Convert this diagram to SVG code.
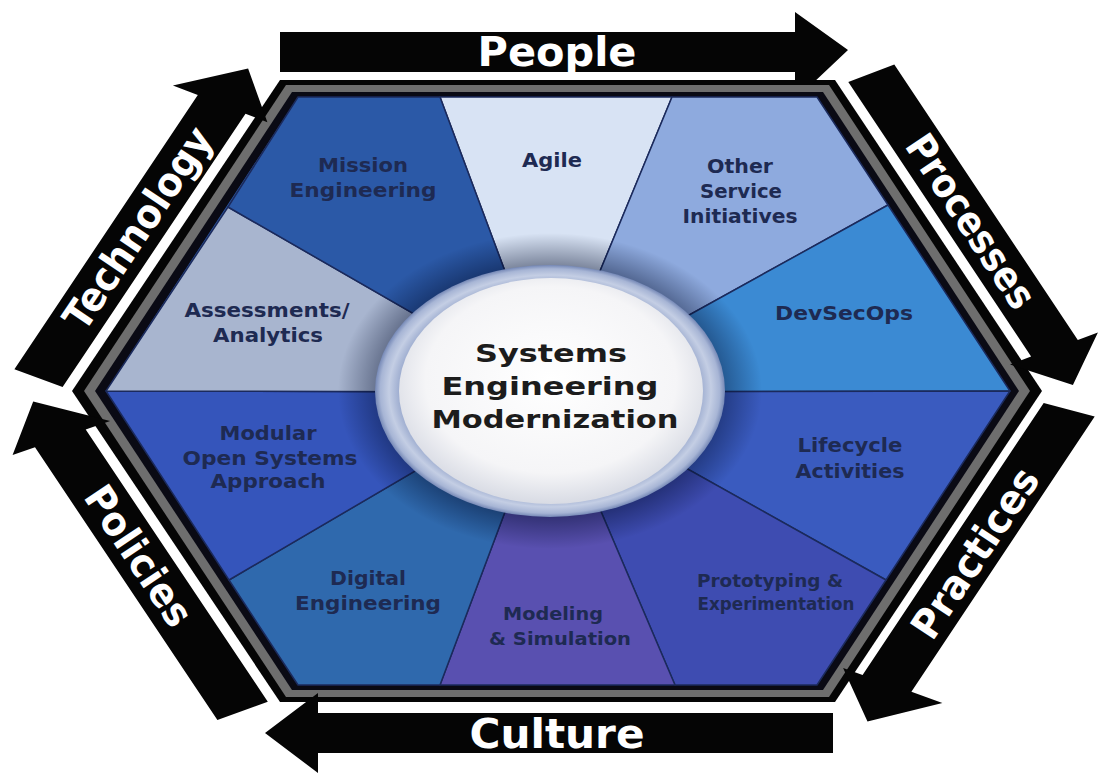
<svg xmlns="http://www.w3.org/2000/svg" width="1099" height="774" viewBox="0 0 1099 774">
<defs>
  <radialGradient id="shadow" cx="0.5" cy="0.5" r="0.5">
    <stop offset="0.76" stop-color="#000a28" stop-opacity="0.5"/>
    <stop offset="1" stop-color="#000a28" stop-opacity="0"/>
  </radialGradient>
  <radialGradient id="ring" cx="0.5" cy="0.5" r="0.5">
    <stop offset="0.85" stop-color="#97a7cc"/>
    <stop offset="0.92" stop-color="#c4cee4"/>
    <stop offset="0.97" stop-color="#a7b5d5"/>
    <stop offset="1" stop-color="#7588b6"/>
  </radialGradient>
  <radialGradient id="disc" cx="0.5" cy="0.45" r="0.55">
    <stop offset="0" stop-color="#ffffff"/>
    <stop offset="0.75" stop-color="#f5f5f7"/>
    <stop offset="1" stop-color="#d8dbe4"/>
  </radialGradient>
</defs>
<style>
  .seg { stroke: #1b2a5c; stroke-width: 1.5; stroke-linejoin: round; }
  .lbl { font-family: "DejaVu Sans", Verdana, sans-serif; font-weight: bold; font-size: 19px; fill: #1e2a52; text-anchor: middle; }
  .sm { font-size: 17px; }
  .ctr { font-family: "DejaVu Sans", Verdana, sans-serif; font-weight: bold; font-size: 25px; fill: #1c1c1c; text-anchor: middle; }
  .arr { fill: #050505; }
  .atx { font-family: "DejaVu Sans", Verdana, sans-serif; font-weight: bold; font-size: 40px; fill: #ffffff; text-anchor: middle; }
</style>
<rect width="1099" height="774" fill="#ffffff"/>

<g id="hexagon">
  <polygon points="72,391 280,80 835,80 1042,391 835,702 280,702" fill="#050505"/>
  <polygon points="84,391 286,85 829,85 1030,391 829,697 286,697" fill="#6e6e6e"/>
  <polygon points="95,391 292,92 823,92 1019,391 823,690 292,690" fill="#0a0a14"/>
  <polygon points="106,391 298,97 817,97 1010,391 817,685 298,685" fill="#2c5aa8"/>
</g>

<g id="segments">
  <g id="seg-agile"><polygon class="seg" points="550,392 440,97 672,97" fill="#d8e3f4"/></g>
  <g id="seg-other"><polygon class="seg" points="550,392 672,97 817,97 888,205" fill="#8eaade"/></g>
  <g id="seg-devsecops"><polygon class="seg" points="550,392 888,205 1010,391" fill="#3b8ad3"/></g>
  <g id="seg-lifecycle"><polygon class="seg" points="550,392 1010,391 886,580" fill="#3a5bbf"/></g>
  <g id="seg-prototyping"><polygon class="seg" points="550,392 886,580 817,685 675,685" fill="#3e4cb1"/></g>
  <g id="seg-modeling"><polygon class="seg" points="550,392 675,685 440,685" fill="#5950b0"/></g>
  <g id="seg-digital"><polygon class="seg" points="550,392 440,685 298,685 229,580" fill="#2f69ad"/></g>
  <g id="seg-modular"><polygon class="seg" points="550,392 229,580 106,391" fill="#3555bb"/></g>
  <g id="seg-assessments"><polygon class="seg" points="550,392 106,391 228,207" fill="#a8b5cf"/></g>
  <g id="seg-mission"><polygon class="seg" points="550,392 228,207 298,97 440,97" fill="#2b59a7"/></g>
</g>

<g id="labels">
  <text class="lbl" x="363" y="172" textLength="90" lengthAdjust="spacingAndGlyphs">Mission</text>
  <text class="lbl" x="363" y="197" textLength="147" lengthAdjust="spacingAndGlyphs">Engineering</text>
  <text class="lbl" x="552" y="167" textLength="60" lengthAdjust="spacingAndGlyphs">Agile</text>
  <text class="lbl" x="740" y="173" textLength="66" lengthAdjust="spacingAndGlyphs">Other</text>
  <text class="lbl" x="741" y="198" textLength="82" lengthAdjust="spacingAndGlyphs">Service</text>
  <text class="lbl" x="740" y="223" textLength="115" lengthAdjust="spacingAndGlyphs">Initiatives</text>
  <text class="lbl" x="844" y="320" textLength="138" lengthAdjust="spacingAndGlyphs">DevSecOps</text>
  <text class="lbl" x="850" y="452" textLength="105" lengthAdjust="spacingAndGlyphs">Lifecycle</text>
  <text class="lbl" x="850" y="478" textLength="109" lengthAdjust="spacingAndGlyphs">Activities</text>
  <text class="lbl sm" x="770" y="587" textLength="146" lengthAdjust="spacingAndGlyphs">Prototyping &amp;</text>
  <text class="lbl sm" x="776" y="610" textLength="157" lengthAdjust="spacingAndGlyphs">Experimentation</text>
  <text class="lbl sm" x="553" y="620" textLength="100" lengthAdjust="spacingAndGlyphs">Modeling</text>
  <text class="lbl sm" x="560" y="645" textLength="142" lengthAdjust="spacingAndGlyphs">&amp; Simulation</text>
  <text class="lbl" x="368" y="585" textLength="76" lengthAdjust="spacingAndGlyphs">Digital</text>
  <text class="lbl" x="368" y="610" textLength="146" lengthAdjust="spacingAndGlyphs">Engineering</text>
  <text class="lbl" x="268" y="440" textLength="97" lengthAdjust="spacingAndGlyphs">Modular</text>
  <text class="lbl" x="270" y="465" textLength="175" lengthAdjust="spacingAndGlyphs">Open Systems</text>
  <text class="lbl" x="268" y="488" textLength="115" lengthAdjust="spacingAndGlyphs">Approach</text>
  <text class="lbl" x="267" y="317" textLength="165" lengthAdjust="spacingAndGlyphs">Assessments/</text>
  <text class="lbl" x="268" y="342" textLength="110" lengthAdjust="spacingAndGlyphs">Analytics</text>
</g>

<g id="center">
  <ellipse cx="550" cy="391" rx="212" ry="158" fill="url(#shadow)"/>
  <ellipse cx="550" cy="391" rx="175" ry="126" fill="url(#ring)"/>
  <ellipse cx="551" cy="391" rx="152" ry="113" fill="url(#disc)"/>
  <text class="ctr" x="551" y="362" textLength="152" lengthAdjust="spacingAndGlyphs">Systems</text>
  <text class="ctr" x="550" y="395" textLength="217" lengthAdjust="spacingAndGlyphs">Engineering</text>
  <text class="ctr" x="555" y="428" textLength="247" lengthAdjust="spacingAndGlyphs">Modernization</text>
</g>

<g id="connectors">
  <g id="arrow-people">
    <polygon class="arr" points="280,32 795,32 795,12 848,50 812,84 795,84 795,72 280,72"/>
    <text class="atx" x="557" y="66" textLength="159" lengthAdjust="spacingAndGlyphs">People</text>
  </g>
  <g id="arrow-processes">
    <polygon class="arr" points="848.3,81.9 894.3,64.5 1077.8,339.9 1097.9,332.4 1072.9,385.1 1010,364.5 1031.1,356.5"/>
    <text class="atx" font-size="39" transform="translate(959.4,229) rotate(56.3)" textLength="200" lengthAdjust="spacingAndGlyphs">Processes</text>
  </g>
  <g id="arrow-practices">
    <polygon class="arr" points="1043.7,402.9 1094.7,416.5 911.4,691.8 942.4,703 867.5,721.6 843.1,668.1 862.6,675"/>
    <text class="atx" font-size="39" transform="translate(986.6,560.7) rotate(-56.3)" textLength="196" lengthAdjust="spacingAndGlyphs">Practices</text>
  </g>
  <g id="arrow-culture">
    <polygon class="arr" points="833,713 318,713 318,693 265,733 318,773 318,753 833,753"/>
    <text class="atx" x="557" y="748" textLength="175" lengthAdjust="spacingAndGlyphs">Culture</text>
  </g>
  <g id="arrow-policies">
    <polygon class="arr" points="267.8,701.7 217.4,719.9 35,447.3 12.6,455.1 33.2,401.5 110.1,421.1 85.7,429.6"/>
    <text class="atx" font-size="39" transform="translate(127.2,563.6) rotate(56.2)" textLength="160" lengthAdjust="spacingAndGlyphs">Policies</text>
  </g>
  <g id="arrow-technology">
    <polygon class="arr" points="62.6,387.1 14.4,369.3 197.8,95 172.9,85.6 248.1,68.6 267.4,122.3 245.5,113.7"/>
    <text class="atx" font-size="39" transform="translate(149.3,235.9) rotate(-56.2)" textLength="234" lengthAdjust="spacingAndGlyphs">Technology</text>
  </g>
</g>
</svg>
